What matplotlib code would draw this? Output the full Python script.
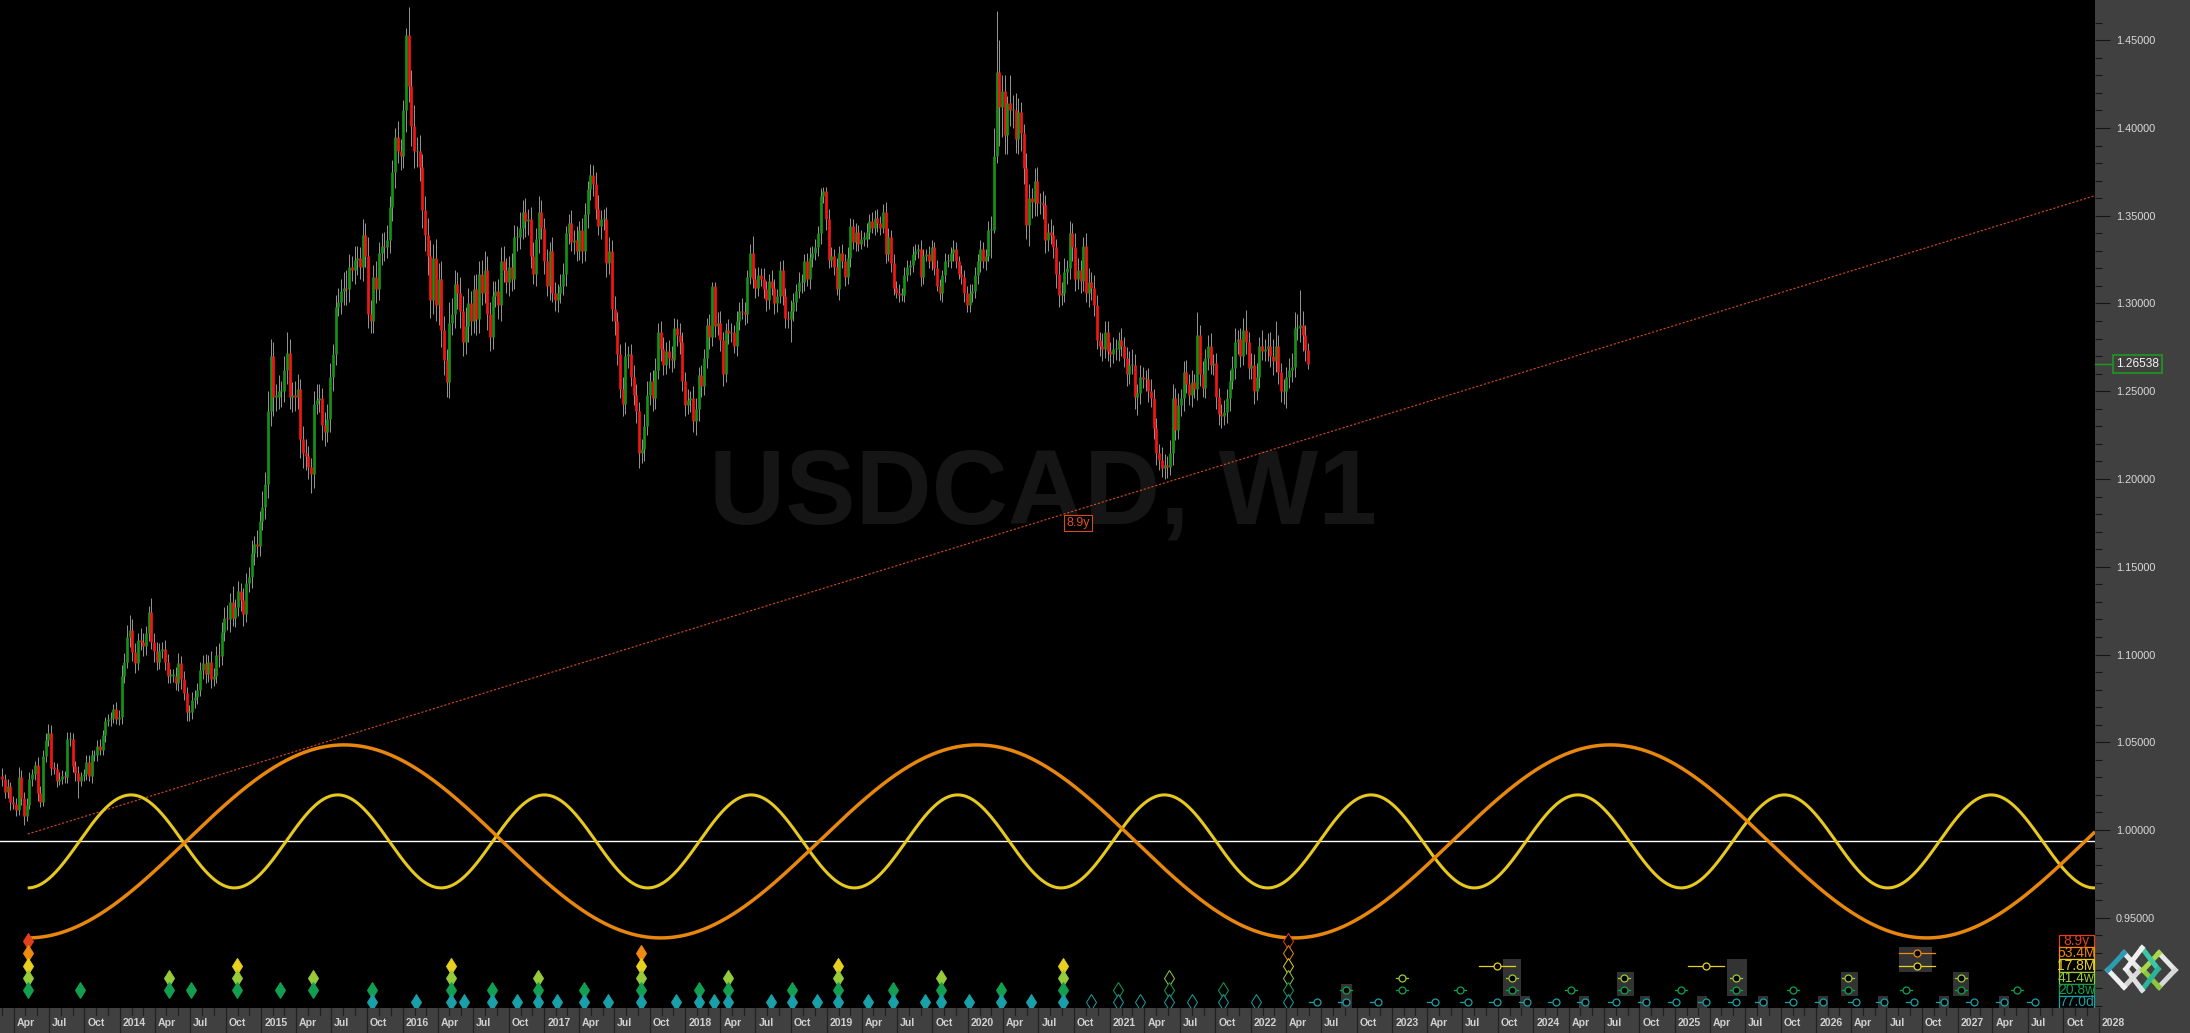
import datetime as dt
import numpy as np
import matplotlib
matplotlib.use("Agg")
import matplotlib.pyplot as plt
import matplotlib.dates as mdates
from matplotlib.transforms import blended_transform_factory
from matplotlib.patches import Rectangle
from matplotlib.lines import Line2D

FONT = "Liberation Sans"
NARROW = ["Liberation Sans Narrow", "Liberation Sans"]

# ---------------- weekly USDCAD candles (values in 1e-4) ----------------
first_bar = dt.date(2013, 3, 3)
first_open = 10310
close_2013 = [10290,10215,10250,10160,10150,10113,10300,10185,10080,10145,
              10290,10320,10370,10210,10160,10420,10515,10555,10355,10350,
              10280,10290,10310,10300,10520,10520,10365,10325,10282,10305,
              10320,10390,10310,10425,10430,10480,10455,10540,10620,10630,
              10640,10690,10630]
close_2014 = [10645,10880,10960,11100,11140,11015,10950,11080,11070,11050,
              11120,11240,11070,11020,10960,11020,11030,10960,10880,10880,
              10880,10840,10950,10860,10780,10670,10670,10740,10760,10800,
              10910,10950,10890,10960,10860,10880,11000,10990,11130,11210,
              11200,11300,11210,11270,11360,11310,11230,11410,11440,11580,
              11630,11620]
close_2015 = [11760,11840,11970,12390,12700,12470,12470,12500,12500,12620,
              12720,12470,12480,12470,12510,12230,12150,12130,12070,12030,
              12430,12450,12460,12310,12270,12340,12580,12710,12980,13010,
              13070,13090,13080,13210,13190,13250,13260,13210,13390,13270,
              12940,12900,13150,13080,13290,13330,13320,13360,13550,13750,
              13950,13870]
close_2016 = [13840,14100,14530,14240,14010,13870,13870,13780,13530,13390,
              13270,13020,13260,12990,13140,12850,12680,12550,12890,12940,
              13110,13060,12960,12780,12870,13000,12900,13080,12910,13170,
              13060,13190,12940,12810,13040,13070,12990,13240,13190,13120,
              13210,13140,13380,13380,13430,13520,13470,13480,13270,13170,
              13370,13520,13430]
close_2017 = [13240,13100,13300,13060,13020,13060,13100,13170,13400,13460,
              13350,13360,13300,13420,13300,13510,13650,13730,13680,13540,
              13440,13480,13480,13230,13300,12970,12900,12710,12510,12430,
              12700,12710,12580,12480,12390,12150,12170,12300,12480,12560,
              12460,12620,12840,12740,12650,12730,12690,12680,12860,12820,
              12780,12560]
close_2018 = [12420,12450,12460,12330,12400,12590,12530,12690,12880,12810,
              13100,12870,12890,12790,12600,12850,12830,12840,12760,12900,
              12960,12950,12940,13150,13290,13140,13090,13160,13140,13080,
              13020,13130,13090,13000,13040,13190,13040,12920,12910,12960,
              13010,13070,13120,13120,13240,13140,13260,13290,13320,13400,
              13610,13640]
close_2019 = [13480,13250,13270,13210,13080,13290,13240,13150,13260,13440,
              13350,13410,13340,13370,13370,13410,13470,13430,13490,13460,
              13430,13520,13280,13380,13230,13090,13060,13050,13050,13160,
              13210,13220,13280,13300,13310,13150,13270,13280,13240,13320,
              13200,13100,13060,13160,13240,13240,13290,13310,13240,13170,
              13150,13060]
close_2020 = [12990,13060,13070,13160,13240,13310,13240,13270,13420,13420,
              13840,14320,14120,14210,13960,14140,14100,14100,13940,14090,
              13970,13770,13450,13600,13580,13700,13570,13570,13560,13360,
              13410,13390,13320,13170,13050,13060,13180,13200,13400,13320,
              13140,13190,13130,13330,13060,13120,13090,12990,12790,12760,
              12740,12840]
close_2021 = [12730,12710,12740,12740,12790,12760,12690,12600,12650,12650,
              12470,12490,12580,12570,12570,12500,12460,12290,12150,12110,
              12060,12080,12070,12150,12460,12280,12420,12460,12610,12540,
              12480,12550,12510,12820,12600,12520,12690,12760,12650,12660,
              12470,12370,12360,12380,12460,12560,12630,12780,12800,12700,
              12850,12780,12630]
close_2022 = [12650,12500,12580,12760,12730,12740,12760,12700,12670,12760,
              12610,12500,12500,12580,12620,12640,12860,12860,12880,12820,
              12735,12654]

# upper / lower wick lengths beyond the body (1e-4)
upwick_2013 = [45,30,40,25,35,30,60,40,30,35,40,30,25,45,40,35,40,51,45,35,
               30,40,30,25,40,40,35,30,40,25,30,35,40,30,25,35,40,30,25,30,35,30,40]
lowick_2013 = [40,35,30,45,30,35,25,40,50,30,25,40,35,45,30,25,30,35,40,30,
               35,25,30,35,30,40,35,45,100,30,25,35,30,40,30,35,30,25,40,30,35,30,25]
upwick_2014 = [40,60,50,70,84,60,50,45,70,50,40,38,80,55,50,45,40,55,45,35,
               40,50,60,40,45,35,40,45,40,35,50,45,55,40,60,45,50,65,55,60,
               70,50,90,45,60,50,70,55,60,70,45,80]
lowick_2014 = [30,40,45,35,60,50,55,40,45,60,50,45,40,60,50,45,40,50,45,40,
               35,45,50,55,40,50,50,35,45,40,35,50,55,45,50,40,45,60,50,55,
               60,70,45,55,50,60,70,45,55,60,70,65]
upwick_2015 = [60,90,70,110,100,80,70,90,60,80,115,80,70,80,90,60,70,80,60,50,
               70,90,80,60,70,90,80,60,70,80,70,90,100,70,60,80,70,60,90,67,
               110,80,70,90,60,70,80,90,60,70,50,90]
lowick_2015 = [60,50,70,80,90,110,80,70,90,60,80,70,90,80,70,110,90,80,70,110,
               80,60,70,90,80,60,70,80,60,50,70,80,90,70,60,80,90,70,80,60,
               80,68,70,80,60,70,80,60,70,80,90,70]
upwick_2016 = [70,60,40,160,90,120,80,90,70,80,100,90,80,110,90,100,80,60,120,90,
               80,70,90,80,110,90,70,80,90,70,80,110,80,70,90,60,70,80,90,70,
               60,80,70,60,90,70,80,60,70,80,60,90,70]
lowick_2016 = [80,70,120,90,110,100,90,80,100,90,110,100,80,90,110,100,90,80,89,70,
               80,90,100,80,70,90,80,70,90,80,70,60,90,80,70,60,80,90,70,60,
               80,70,60,80,70,60,90,80,70,60,70,80,60]
upwick_2017 = [60,70,50,80,60,50,70,60,40,50,70,60,80,50,70,60,50,63,60,70,
               80,50,60,70,80,60,70,50,60,70,80,50,60,70,60,50,60,70,80,50,
               60,70,50,60,70,50,60,70,60,50,70,60]
lowick_2017 = [70,60,80,50,60,70,60,50,70,60,50,70,60,50,70,60,80,60,70,60,
               50,70,60,80,60,70,80,60,50,70,60,70,50,60,70,88,60,70,50,60,
               70,60,50,70,60,50,60,70,50,60,70,60]
upwick_2018 = [50,60,40,70,60,50,60,50,40,60,20,25,60,70,50,40,60,50,40,60,
               50,70,60,40,50,96,60,50,40,60,50,40,60,50,40,50,60,50,40,60,
               50,40,60,50,40,50,60,40,50,40,50,25]
lowick_2018 = [60,50,70,60,80,70,60,50,60,70,50,60,50,60,70,50,60,50,40,60,
               50,40,60,50,40,50,60,50,40,50,60,50,40,60,50,40,50,60,50,127,
               60,50,40,60,50,40,60,50,40,50,60,40]
upwick_2019 = [25,60,50,40,50,40,50,40,60,50,40,50,40,50,40,50,40,50,40,50,
               40,45,60,50,40,50,40,50,40,50,40,30,50,40,30,50,40,30,50,40,
               30,50,40,30,50,40,30,50,40,30,50,40]
lowick_2019 = [60,50,40,50,30,60,40,50,40,50,40,50,40,30,40,50,40,30,40,50,
               40,30,50,40,50,40,30,40,34,40,30,50,40,30,40,50,40,30,40,50,
               40,30,40,50,40,30,40,50,40,30,40,50]
upwick_2020 = [40,50,40,50,40,50,40,40,50,80,160,348,180,90,90,40,160,90,100,80,
               60,50,90,80,60,70,80,60,70,60,50,70,60,50,70,60,80,50,70,60,
               80,70,60,50,70,80,60,70,60,50,70,60]
lowick_2020 = [38,40,50,40,50,60,40,50,30,160,20,40,220,170,110,110,90,100,80,90,
               100,90,80,120,90,80,70,60,80,70,60,50,60,80,70,60,50,70,60,80,
               70,60,70,60,50,80,70,60,50,60,70,50]
upwick_2021 = [60,50,70,60,50,70,50,60,80,90,60,50,70,60,50,60,70,50,60,50,
               70,60,50,70,80,60,70,50,60,70,60,70,50,129,60,70,50,60,70,50,
               60,50,60,70,50,60,70,80,50,60,70,114,60]
lowick_2021 = [60,70,50,60,70,60,50,70,60,50,70,105,60,50,70,60,50,60,70,60,
               50,60,63,50,70,60,50,60,70,50,60,70,50,60,70,50,60,70,50,60,
               70,60,72,50,60,70,50,60,70,60,50,70,60]
upwick_2022 = [70,60,80,50,90,60,70,80,100,140,60,50,70,60,70,80,90,80,197,80,60,40]
lowick_2022 = [60,70,50,60,50,60,70,60,80,60,70,60,70,97,60,70,60,70,80,90,60,30]

last_price = 1.26538

# ---------------- cycle model (Hurst-style) ----------------
cycle_start = 2013.347          # 8.9y trough (decimal year)
cycle_center = 0.9935
cycle_53M_period, cycle_53M_amp = 4.478, 0.055
cycle_17M_period, cycle_17M_amp = 1.462, 0.0265

# trend line anchors (decimal year, price)
trend_years = [2013.347, 2021.42]
trend_prices = [0.9977, 1.1985]
trend_label = "8.9y"
trend_label_pos = (2020.777, 1.175)

# cycle legend
legend_names = ["8.9y", "53.4M", "17.8M", "41.4w", "20.8w", "77.0d"]
legend_rows = ["r", "o", "y", "l", "g", "t"]

# trough markers: filled (confirmed), hollow (recent), circles (projected)
filled_years = [2013.346,2013.717,2014.347,2014.502,2014.828,2015.132,2015.365,2015.783,
                2016.094,2016.342,2016.434,2016.632,2016.805,2016.957,2017.091,2017.282,
                2017.452,2017.686,2017.933,2018.096,2018.202,2018.301,2018.605,2018.754,
                2018.931,2019.079,2019.291,2019.468,2019.695,2019.808,2020.006,2020.232,
                2020.444,2020.671]
filled_rows = ["roylg","g","lg","g","ylg","g","lg","gt","t","ylgt","t","gt","t","lgt","t","gt",
               "t","oylgt","t","gt","t","lgt","t","gt","t","ylgt","t","gt","t","lgt","t","gt",
               "t","ylgt"]
hollow_years = [2020.872,2021.060,2021.216,2021.421,2021.580,2021.803,2022.036,2022.263]
hollow_rows = ["t","gt","t","lgt","t","gt","t","roylgt"]
proj_years = [2022.468,2022.673,2022.899,2023.069,2023.303,2023.479,2023.536,2023.741,
              2023.847,2023.953,2024.158,2024.265,2024.364,2024.580,2024.640,2024.795,
              2025.008,2025.043,2025.220,2025.435,2025.623,2025.835,2026.047,2026.224,
              2026.281,2026.476,2026.635,2026.691,2026.712,2026.903,2027.021,2027.115,
              2027.331,2027.419,2027.547]
proj_rows = ["t","gt","t","lg","t","g","t","yt","lg","t","t","g","t","t","lg","t",
             "t","g","yt","lgt","t","gt","t","lg","t","t","g","t","oy","t","lg","t",
             "t","g","t"]
box_start = [2022.638,2023.784,2023.904,2024.321,2024.590,2024.753,2025.157,2025.369,
             2025.588,2026.012,2026.175,2026.436,2026.585,2026.868,2026.967,2027.292]
box_end = [2022.716,2023.911,2023.975,2024.392,2024.710,2024.823,2025.227,2025.511,
           2025.659,2026.083,2026.295,2026.507,2026.818,2026.939,2027.080,2027.363]
box_rows = ["gt","yg","t","t","lg","t","t","yg","t","t","lg","t","oy","t","lg","t"]

# axis tick values
price_major = [0.95,1.00,1.05,1.10,1.15,1.20,1.25,1.30,1.35,1.40,1.45]
month_names = ["Jan","Feb","Mar","Apr","May","Jun","Jul","Aug","Sep","Oct","Nov","Dec"]
last_axis_label = dt.date(2028, 1, 1)

# ---------------- derived series ----------------
closes = np.array(close_2013+close_2014+close_2015+close_2016+close_2017+close_2018+
                  close_2019+close_2020+close_2021+close_2022, float) / 1e4
upw = np.array(upwick_2013+upwick_2014+upwick_2015+upwick_2016+upwick_2017+upwick_2018+
               upwick_2019+upwick_2020+upwick_2021+upwick_2022, float) / 1e4
low_w = np.array(lowick_2013+lowick_2014+lowick_2015+lowick_2016+lowick_2017+lowick_2018+
                 lowick_2019+lowick_2020+lowick_2021+lowick_2022, float) / 1e4
n = min(len(closes), len(upw), len(low_w))
closes, upw, low_w = closes[:n], upw[:n], low_w[:n]
opens = np.r_[first_open / 1e4, closes[:-1]]
highs = np.maximum(opens, closes) + upw
lows = np.minimum(opens, closes) - low_w
bar_x = mdates.date2num([first_bar + dt.timedelta(weeks=i) for i in range(n)])

# ---------------- layout ----------------
W, H = 2190, 1033
PLOT_R, PLOT_B = 2095, 1008
PX_PER_DAY = 141.36 / 365.25
X2014 = mdates.date2num(dt.date(2014, 1, 1))
X2014_PX = 120
XL = X2014 - X2014_PX / PX_PER_DAY
XR = XL + PLOT_R / PX_PER_DAY
Y_TOP, Y_BOT = 1.47293, 0.89858


def yr2num(y):
    return X2014 + (y - 2014.0) * 365.25


BG = "#404040"
fig = plt.figure(figsize=(W / 100, H / 100), dpi=100, facecolor=BG)
ax = fig.add_axes([0, (H - PLOT_B) / H, PLOT_R / W, PLOT_B / H], facecolor="black")
ax.set_xlim(XL, XR)
ax.set_ylim(Y_BOT, Y_TOP)
for s in ax.spines.values():
    s.set_visible(False)
ax.set_xticks([])

# right price axis
ax.yaxis.tick_right()
ax.set_yticks(price_major)
ax.set_yticks(np.round(np.arange(0.90, 1.47, 0.01), 2), minor=True)
ax.set_yticklabels([f"{v:.5f}" for v in price_major], fontsize=7.8, family=FONT,
                   color="#dadada")
ax.tick_params(axis="y", which="major", length=11, width=0.8, color="#151515", pad=4)
ax.tick_params(axis="y", which="minor", length=5, width=0.8, color="#151515")

# watermark
ax.text(0.498, 0.481, "USDCAD, W1", transform=ax.transAxes, ha="center", va="baseline",
        fontsize=76, fontweight="bold", family=FONT, color="#151515", zorder=0)

# candles
ax.vlines(bar_x, lows, highs, color="#a0a0a0", lw=0.65, zorder=3)
bull = closes >= opens
body_lo = np.minimum(opens, closes)
body_hi = np.maximum(np.maximum(opens, closes), body_lo + 0.0007)
ax.vlines(bar_x, body_lo, body_hi, colors=np.where(bull, "#169016", "#f41414"),
          lw=1.95, zorder=4)

# trend line
tx0, tx1 = yr2num(trend_years[0]), yr2num(trend_years[1])
slope = (trend_prices[1] - trend_prices[0]) / (tx1 - tx0)
ax.plot([tx0, XR], [trend_prices[0], trend_prices[0] + slope * (XR - tx0)],
        color="#d24c22", lw=0.8, ls=(0, (2, 1.6)), zorder=5)
ax.text(yr2num(trend_label_pos[0]), trend_label_pos[1], trend_label, ha="center",
        va="center", fontsize=9, family=FONT, color="#e0501e", zorder=7,
        bbox=dict(boxstyle="square,pad=0.15", fc="black", ec="#d24c22", lw=0.8))

# center line & cycles
ax.axhline(cycle_center, color="white", lw=1.0, zorder=5)
t = np.linspace(cycle_start, (XR - X2014) / 365.25 + 2014, 3000)
tx = yr2num(t)
orange = cycle_center - cycle_53M_amp * np.cos(2 * np.pi * (t - cycle_start) / cycle_53M_period)
yellow = cycle_center - cycle_17M_amp * np.cos(2 * np.pi * (t - cycle_start) / cycle_17M_period)
ax.plot(tx, yellow, color="#e6c81e", lw=2.2, zorder=6, solid_capstyle="butt")
ax.plot(tx, orange, color="#e8870e", lw=2.5, zorder=6, solid_capstyle="butt")

# trough markers
trans = blended_transform_factory(ax.transData, ax.transAxes)
ROW_Y = {"r": 0.0665, "o": 0.0543, "y": 0.0421, "l": 0.0299, "g": 0.0177, "t": 0.0062}
ROW_C = {"r": "#e0401a", "o": "#f08a10", "y": "#e8d020", "l": "#96cc3a",
         "g": "#12a050", "t": "#1aa0a8"}
HALF_ROW = 0.0061

for y0, y1, rows in zip(box_start, box_end, box_rows):
    top = ROW_Y[rows[0]] + HALF_ROW
    bot = ROW_Y[rows[-1]] - HALF_ROW
    ax.add_patch(Rectangle((yr2num(y0), bot), yr2num(y1) - yr2num(y0), top - bot,
                           transform=trans, fc="#333333", ec="none", zorder=6,
                           clip_on=False))

for yrs, rows_list, filled in ((filled_years, filled_rows, True),
                               (hollow_years, hollow_rows, False)):
    for yv, rows in zip(yrs, rows_list):
        for r in rows:
            ax.plot([yr2num(yv)], [ROW_Y[r]], transform=trans, marker="d", ms=8.5,
                    mfc=ROW_C[r] if filled else "black", mec=ROW_C[r], mew=0.7,
                    ls="none", zorder=8, clip_on=False)

px = 1 / PX_PER_DAY
for yv, rows in zip(proj_years, proj_rows):
    xc = yr2num(yv)
    for r in rows:
        if r in "oy":
            xa, xb = xc - 18 * px, xc + 18 * px
        elif r == "t":
            xa, xb = xc - 8 * px, xc
        else:
            xa, xb = xc - 6 * px, xc + 6 * px
        ax.plot([xa, xb], [ROW_Y[r]] * 2, transform=trans, color=ROW_C[r], lw=0.9,
                zorder=8, clip_on=False)
        ax.plot([xc], [ROW_Y[r]], transform=trans, marker="o", ms=5, mfc="black",
                mec=ROW_C[r], mew=0.9, ls="none", zorder=9, clip_on=False)

# cycle legend boxes
bw = 35 / PLOT_R
bh = 12.3 / PLOT_B
bx = 2059 / PLOT_R
for name, r in zip(legend_names, legend_rows):
    ax.add_patch(Rectangle((bx, ROW_Y[r] - bh / 2), bw, bh, transform=ax.transAxes,
                           fc="black", ec=ROW_C[r], lw=0.9, zorder=10, clip_on=False))
    ax.text(bx + bw / 2, ROW_Y[r], name, transform=ax.transAxes, ha="center",
            va="center", fontsize=10, family=NARROW, color=ROW_C[r], zorder=11)

# last price label
tr_price = blended_transform_factory(ax.transAxes, ax.transData)
ax.plot([1.0, 2111 / PLOT_R], [last_price] * 2, transform=tr_price, color="#1e9a1e",
        lw=1.0, clip_on=False, zorder=10)
ax.text(2116 / PLOT_R, last_price, f"{last_price:.5f}", transform=tr_price, ha="left",
        va="center", fontsize=8.6, family=FONT, color="#f4f4f4", zorder=11,
        bbox=dict(boxstyle="square,pad=0.25", fc=BG, ec="#1e9a1e", lw=1.2))

# bottom time band
band = fig.add_axes([0, 0, 1, (H - PLOT_B) / H], facecolor=BG)
band.set_xlim(XL, XL + W / PX_PER_DAY)
band.set_ylim(0, 1)
band.axis("off")
band.add_patch(Rectangle((0, 0), 1, 1, transform=band.transAxes, fc=BG, ec="none"))
for yy in range(2013, 2029):
    for mm in range(1, 13):
        day = dt.date(yy, mm, 1)
        d = mdates.date2num(day)
        if d < XL or day > last_axis_label:
            continue
        if mm in (1, 4, 7, 10):
            band.plot([d, d], [0.05, 1], color="#222222", lw=0.9)
            lab = str(yy) if mm == 1 else month_names[mm - 1]
            band.text(d + 3 * px, 0.42, lab, ha="left", va="center", fontsize=7.6,
                      family=FONT, fontweight="bold", color="#d0d0d0")
        else:
            band.plot([d, d], [0.72, 1], color="#222222", lw=0.9)

# logo (three interlocking diamonds)
def fpt(x, y):
    return x / W, 1 - y / H

def diamond(cx, cy, hw, hh, cols):
    pts = [(cx, cy - hh), (cx + hw, cy), (cx, cy + hh), (cx - hw, cy), (cx, cy - hh)]
    for i in range(4):
        (xa, ya), (xb, yb) = fpt(*pts[i]), fpt(*pts[i + 1])
        fig.add_artist(Line2D([xa, xb], [ya, yb], transform=fig.transFigure,
                              color=cols[i], lw=3.6, solid_capstyle="projecting"))

diamond(2124, 970, 16, 17, ["#e8e8e8", "#d8d8d8", "#f0f0f0", "#2a9cb4"])
diamond(2159, 970, 16, 17, ["#e8e8e8", "#d8d8d8", "#8cc83c", "#a8d84a"])
diamond(2142, 969, 16, 21, ["#3cc8a8", "#2ab49a", "#e0e0e0", "#f0f0f0"])

fig.savefig("out.png", dpi=100, facecolor=BG)
